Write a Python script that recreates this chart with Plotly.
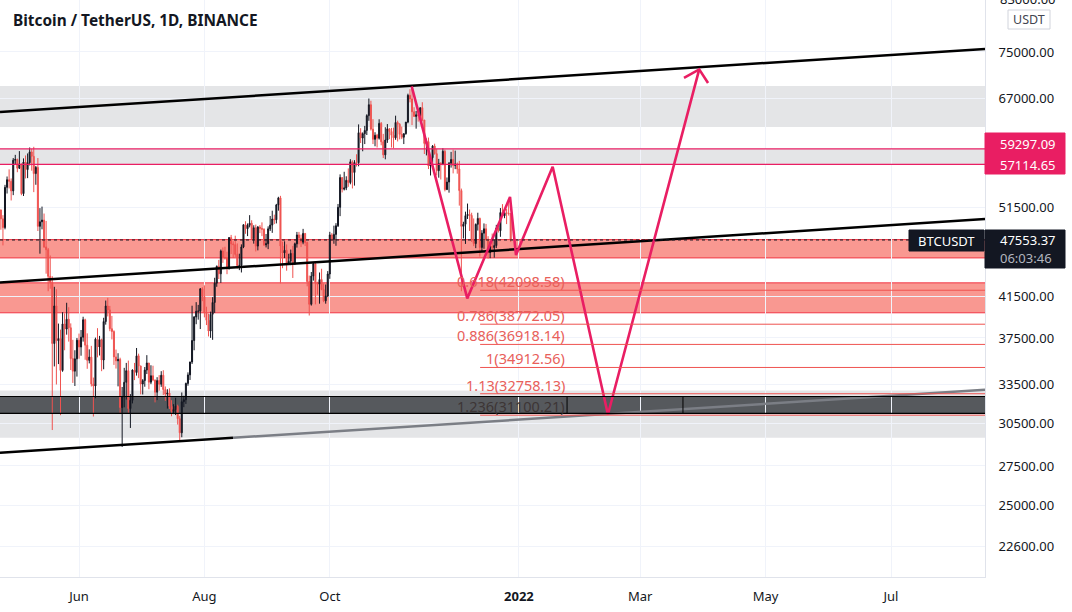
import math
import pandas as pd
import plotly.graph_objects as go

# ---------------- data (BTC/USDT daily, 2021-04-23 .. 2021-12-28) ----------------
opens = [
    51700, 51150, 50050, 49000, 54020, 55030, 54820, 53560,
    57700, 57800, 56580, 57170, 53200, 57440, 56400, 57350, 58870, 58240, 55850, 56700, 49150, 49700, 49900, 46760,
    46450, 43540, 42900, 37000, 40530, 37250, 37450, 34660, 38800, 38320, 39240, 38440, 35670, 34600, 35650,
    37300, 36690, 37570, 39190, 36850, 35520, 35800, 33550, 33380, 37390, 36690, 37340, 35550, 39020, 40520, 40140,
    38350, 38090, 35820, 35480, 35600, 31680, 32510, 33680, 34640, 31600, 32240, 34700, 34490, 35910,
    35040, 33540, 33820, 34690, 35290, 33690, 34220, 33860, 32880, 33820, 33520, 34260, 33090, 32730, 32820, 31780,
    31390, 31530, 31780, 30840, 29800, 32130, 32290, 33590, 34290, 35380, 37270, 39460, 40010, 40020, 42240,
    41460, 39850, 39150, 38130, 39720, 40870, 42830, 44610, 43810, 46290, 45580, 45530, 44430, 47830, 47100, 47020,
    45920, 44690, 44710, 46760, 49340, 48870, 49280, 49520, 47690, 48980, 46850, 49070, 48900, 48810, 46990,
    47130, 48850, 49300, 50030, 49940, 51770, 52660, 46860, 46080, 46370, 44850, 45170, 46030, 44960, 47110, 48140,
    47750, 47300, 48310, 47260, 42990, 40690, 43570, 44900, 42840, 42720, 43210, 42170, 41030, 41520,
    43790, 48140, 47640, 48200, 49220, 51470, 55320, 53790, 53950, 54950, 54660, 57470, 56000, 57370, 57350, 61670,
    60880, 61530, 62010, 64280, 66000, 62210, 60690, 61290, 60860, 63080, 60330, 58450, 60590, 62250, 61860,
    61300, 60910, 63220, 62940, 61430, 61000, 61530, 63280, 67530, 66940, 64880, 64150, 64410, 64310, 65520, 63600,
    60090, 60360, 56890, 58050, 59710, 58620, 56250, 57270, 57140, 58960, 53730, 54720, 57270, 57800,
    56950, 57180, 56480, 53600, 49150, 49400, 50440, 50590, 50470, 47550, 47140, 49390, 50100, 46700, 48340, 48860,
    47630, 46130, 46830, 46680, 46910, 48940, 48630, 50820, 50430, 50800, 50720, 50700,
]
highs = [
    52130, 51170, 50500, 54350, 55460, 56430, 55200, 58000,
    58450, 57920, 58980, 57200, 57950, 58360, 58650, 59500, 59300, 59600, 56900, 58000, 51370, 51560, 50700, 49800,
    46640, 45800, 43550, 42450, 42200, 38830, 38270, 39920, 39800, 40840, 40400, 38850, 37330, 36400, 37500,
    37900, 38230, 39480, 39290, 37920, 36480, 36790, 34070, 37530, 38400, 37690, 37440, 39380, 41060, 41330, 40530,
    39560, 38200, 36460, 36140, 35750, 33300, 34880, 35300, 35500, 32730, 34750, 35300, 36600, 36100,
    35060, 33940, 34950, 35970, 35300, 35100, 35060, 33910, 34100, 34270, 34600, 34680, 33340, 33120, 33190, 32250,
    31940, 32440, 31900, 31050, 32860, 32600, 33650, 34500, 35400, 40550, 39540, 40900, 40630, 42320, 42410,
    42600, 40450, 39780, 39970, 41400, 43390, 44700, 45310, 46460, 46700, 46780, 46220, 47880, 48140, 47400, 48050,
    47160, 46000, 47050, 49380, 49760, 49500, 50500, 49880, 49280, 49360, 49180, 49300, 49630, 48910, 48250,
    49150, 50400, 51050, 50560, 51900, 52800, 52920, 47360, 47400, 47040, 45990, 46460, 46880, 47250, 48490, 48490,
    48180, 48850, 48370, 47360, 43620, 44000, 44980, 45000, 42970, 43950, 44350, 42790, 42690, 44100,
    48500, 48350, 49230, 49530, 51890, 55750, 55340, 56100, 55490, 56560, 57840, 57680, 57700, 58530, 62930, 62350,
    61720, 62700, 64490, 67000, 66640, 63730, 61740, 61500, 63710, 63290, 61500, 62500, 62980, 62360, 62400,
    62440, 64270, 63500, 63120, 62600, 61560, 63290, 67790, 68530, 69000, 65600, 65000, 65000, 65590, 66400, 63600,
    60800, 60950, 58350, 59850, 60050, 59270, 57880, 57410, 59400, 59200, 55330, 57450, 58870, 59180,
    59050, 57380, 57600, 53860, 49700, 50930, 51940, 51200, 50800, 50100, 49490, 50800, 50200, 48700, 49500, 49440,
    47990, 47380, 48300, 47540, 49330, 49580, 51380, 51870, 51160, 51280, 52090, 50710,
]
lows = [
    47500, 48750, 46930, 48800, 53220, 53880, 52330, 53010,
    57050, 56040, 56480, 53000, 52900, 55200, 55240, 56970, 56250, 53400, 54360, 48600, 46000, 48800, 46650, 43820,
    42000, 42250, 30000, 35000, 33500, 35200, 31100, 34550, 36400, 37800, 37170, 34700, 33630, 33380, 34150,
    35660, 35920, 37170, 35570, 34800, 35260, 33340, 31000, 32400, 35780, 35940, 34600, 34760, 38730, 39510, 38120,
    37370, 35130, 34820, 33350, 31250, 28800, 31700, 32300, 31280, 30150, 32000, 33860, 34230, 34020,
    32710, 32700, 33320, 34360, 33120, 33530, 33770, 32080, 32260, 33000, 33310, 32660, 32200, 31600, 31570, 31020,
    31180, 31110, 30400, 29280, 29480, 31710, 31960, 33400, 33870, 35210, 36400, 38770, 39200, 38320, 41000,
    39420, 38690, 37640, 37510, 37330, 39850, 42450, 43260, 42850, 44990, 45340, 43770, 44250, 45960, 45520, 45640,
    44380, 44200, 43950, 46620, 48270, 48000, 49030, 47600, 47130, 46250, 46370, 48350, 48000, 46860, 46700,
    46510, 48600, 48380, 49420, 49500, 51050, 42800, 44410, 45510, 44140, 44750, 44740, 43370, 44750, 46680, 47050,
    46740, 47060, 46860, 42500, 39600, 40560, 43090, 40680, 41650, 40750, 42100, 40900, 40750, 41410,
    43280, 47430, 47120, 46890, 49070, 50380, 53360, 53620, 53660, 54090, 54420, 53880, 54250, 56820, 56850, 60150,
    58960, 60000, 61330, 63480, 62000, 60000, 59680, 59500, 60650, 59820, 58000, 57820, 60170, 60720, 59500,
    59400, 60620, 60380, 60680, 60720, 60000, 61380, 63100, 66380, 62820, 64100, 62280, 63350, 63580, 63400, 58570,
    58370, 56470, 55600, 57350, 58480, 55610, 55300, 55060, 57000, 53500, 53670, 53330, 56670, 55880,
    56460, 55840, 51680, 42000, 47730, 47100, 50040, 48600, 47330, 46850, 46620, 48650, 45670, 46290, 46550, 47520,
    45460, 45500, 46400, 45560, 46630, 48420, 47920, 50400, 50130, 49420, 50450, 47310,
]
closes = [
    51150, 50050, 49000, 54020, 55030, 54820, 53560, 57700,
    57800, 56580, 57170, 53200, 57440, 56400, 57350, 58870, 58240, 55850, 56700, 49150, 49700, 49900, 46760, 46450,
    43540, 42900, 37000, 40530, 37250, 37450, 34660, 38800, 38320, 39240, 38440, 35670, 34600, 35650, 37300,
    36690, 37570, 39190, 36850, 35520, 35800, 33550, 33380, 37390, 36690, 37340, 35550, 39020, 40520, 40140, 38350,
    38090, 35820, 35480, 35600, 31680, 32510, 33680, 34640, 31600, 32240, 34700, 34490, 35910, 35040,
    33540, 33820, 34690, 35290, 33690, 34220, 33860, 32880, 33820, 33520, 34260, 33090, 32730, 32820, 31780, 31390,
    31530, 31780, 30840, 29800, 32130, 32290, 33590, 34290, 35380, 37270, 39460, 40010, 40020, 42240, 41460,
    39850, 39150, 38130, 39720, 40870, 42830, 44610, 43810, 46290, 45580, 45530, 44430, 47830, 47100, 47020, 45920,
    44690, 44710, 46760, 49340, 48870, 49280, 49520, 47690, 48980, 46850, 49070, 48900, 48810, 46990, 47130,
    48850, 49300, 50030, 49940, 51770, 52660, 46860, 46080, 46370, 44850, 45170, 46030, 44960, 47110, 48140, 47750,
    47300, 48310, 47260, 42990, 40690, 43570, 44900, 42840, 42720, 43210, 42170, 41030, 41520, 43790,
    48140, 47640, 48200, 49220, 51470, 55320, 53790, 53950, 54950, 54660, 57470, 56000, 57370, 57350, 61670, 60880,
    61530, 62010, 64280, 66000, 62210, 60690, 61290, 60860, 63080, 60330, 58450, 60590, 62250, 61860, 61300,
    60910, 63220, 62940, 61430, 61000, 61530, 63280, 67530, 66940, 64880, 64150, 64410, 64310, 65520, 63600, 60090,
    60360, 56890, 58050, 59710, 58620, 56250, 57270, 57140, 58960, 53730, 54720, 57270, 57800, 56950,
    57180, 56480, 53600, 49150, 49400, 50440, 50590, 50470, 47550, 47140, 49390, 50100, 46700, 48340, 48860, 47630,
    46130, 46830, 46680, 46910, 48940, 48630, 50820, 50430, 50800, 50720, 50700, 47553.37,
]
dates = pd.date_range("2021-04-23", periods=len(closes), freq="D")

price_ticks = [22600, 25000, 27500, 30500, 33500, 37500, 41500, 51500, 67000, 75000]
month_ticks = ["2021-06-01", "2021-08-01", "2021-10-01", "2022-01-01", "2022-03-01", "2022-05-01", "2022-07-01"]
month_labels = ["Jun", "Aug", "Oct", "<b>2022</b>", "Mar", "May", "Jul"]

last_price = 47553.37
pink_levels = [59297.09, 57114.65]
fib_ratios = ["0.618", "0.786", "0.886", "1", "1.13", "1.236"]
fib_prices = [42098.58, 38772.05, 36918.14, 34912.56, 32758.13, 31100.21]

# drawings (date, price anchors)
gray_zones = [(62540, 69060), (57114.65, 59297.09), (29440, 33010)]
red_zones = [(45530, 47600), (39860, 42860)]
dark_band = (31240, 32540)

zig_x = ["2021-11-09 20:00", "2021-12-06 21:00", "2021-12-27 16:00", "2021-12-30 14:00",
         "2022-01-17 10:00", "2022-02-13 07:00", "2022-03-29 17:00"]
zig_y = [69000, 41270, 52780, 45850, 56800, 31150, 71900]
arrow_x = ["2022-03-22 07:00", "2022-03-29 17:00", "2022-04-03 00:00"]
arrow_y = [70450, 71900, 69560]

X_LEFT = "2021-04-23 13:40"
X_RIGHT = "2022-08-15 17:17"
top_line_y = [64840, 75550]
mid_line_y = [42890, 50020]
low_black_x = [X_LEFT, "2021-08-14 22:00"]
low_black_y = [28390, 29440]
low_gray_x = ["2021-08-14 22:00", X_RIGHT]
low_gray_y = [29440, 33070]

FIB_START = "2021-12-13 03:00"
FIB_LABEL_X = "2022-01-24 10:00"
band_dividers = ["2022-01-24 10:00", "2022-03-21 19:00"]

# ---------------- figure ----------------
W, H = 1072, 612
PW, PH = 985, 577
FONT = "Noto Sans"
L = math.log10
PINK = "#e91e63"
Y_MIN, Y_MAX = 21010, 85070
LY0, LY1 = L(Y_MIN), L(Y_MAX)


def px(x):
    return x / PW


def py(y):
    return 1 - y / PH


def pv(price):
    """price -> paper y fraction on the log price scale"""
    return (L(price) - LY0) / (LY1 - LY0)


fig = go.Figure()

fig.add_trace(go.Candlestick(
    x=dates, open=opens, high=highs, low=lows, close=closes,
    increasing=dict(line=dict(color="#131722", width=1), fillcolor="#131722"),
    decreasing=dict(line=dict(color="#ef5350", width=1), fillcolor="#ef5350"),
    whiskerwidth=0, hoverinfo="skip", showlegend=False,
))

shapes = []


def hrect(lo, hi, fill, layer="between", x0=X_LEFT, x1=X_RIGHT):
    shapes.append(dict(type="rect", xref="x", yref="paper", x0=x0, x1=x1, y0=pv(lo), y1=pv(hi),
                       fillcolor=fill, line=dict(width=0), layer=layer))


def hline(v, color, width=1, dash="solid", layer="above", x0=X_LEFT, x1=X_RIGHT):
    shapes.append(dict(type="line", xref="x", yref="paper", x0=x0, x1=x1, y0=pv(v), y1=pv(v),
                       line=dict(color=color, width=width, dash=dash), layer=layer))


for lo, hi in gray_zones:
    hrect(lo, hi, "rgba(120,123,134,0.2)")
for lo, hi in red_zones:
    hrect(lo, hi, "rgba(244,67,54,0.55)")
    for v in (lo, hi):
        hline(v, "#f23645", 1, layer="between")
hrect(dark_band[0], dark_band[1], "#56595d")
for v in dark_band:
    hline(v, "#000000", 1.2)
for d in band_dividers:
    shapes.append(dict(type="line", xref="x", yref="paper", x0=d, x1=d, y0=pv(dark_band[0]), y1=pv(dark_band[1]),
                       line=dict(color="#000000", width=1), layer="above"))
for v in pink_levels:
    hline(v, PINK, 1.2)
for v in fib_prices:
    hline(v, "#ef5350", 1, x0=FIB_START)
hline(last_price, "#131722", 1, dash="dot")


# right-axis boxes (pixel layout)
def pbox(x0, y0, x1, y1, fill, line_color=None):
    shapes.append(dict(type="rect", xref="paper", yref="paper", x0=px(x0), x1=px(x1), y0=py(y1), y1=py(y0),
                       fillcolor=fill, line=dict(color=line_color or fill, width=1), layer="above"))


pbox(985, 133, 1065, 174, PINK)
pbox(909, 230, 984, 251, "#131722")
pbox(985, 230, 1065, 268, "#131722")
pbox(1008, 10, 1050, 29, "#ffffff", "#d1d4dc")


# trend lines & zigzag
def add_line(xs, ys, color, width):
    fig.add_trace(go.Scatter(x=xs, y=ys, mode="lines", line=dict(color=color, width=width),
                             hoverinfo="skip", showlegend=False))


add_line([X_LEFT, X_RIGHT], top_line_y, "#000000", 2.5)
add_line([X_LEFT, X_RIGHT], mid_line_y, "#000000", 2.5)
add_line(low_black_x, low_black_y, "#000000", 2.5)
add_line(low_gray_x, low_gray_y, "#7b7e85", 2.5)
add_line(zig_x, zig_y, PINK, 2.6)
add_line(arrow_x, arrow_y, PINK, 2.6)

annotations = []
annotations.append(dict(text="<b>Bitcoin / TetherUS, 1D, BINANCE</b>", xref="paper", yref="paper",
                        x=px(11), y=py(20), xanchor="left", yanchor="middle", showarrow=False,
                        font=dict(family=FONT, size=15.4, color="#131722")))
for r, v in zip(fib_ratios, fib_prices):
    col = "#3d3535" if r == "1.236" else "#e8605a"
    annotations.append(dict(text=f"{r}({v:.2f})", xref="x", yref="paper", x=FIB_LABEL_X, y=pv(v),
                            xanchor="right", yanchor="middle", yshift=9, showarrow=False,
                            font=dict(family=FONT, size=14.5, color=col)))


def ptext(text, x, y, color, size=13, anchor="left"):
    annotations.append(dict(text=text, xref="paper", yref="paper", x=px(x), y=py(y), xanchor=anchor,
                            yanchor="middle", showarrow=False, font=dict(family=FONT, size=size, color=color)))


ptext(f"{pink_levels[0]:.2f}", 998, 144, "#ffffff")
ptext(f"{pink_levels[1]:.2f}", 998, 165, "#ffffff")
ptext("BTCUSDT", 946.5, 240.5, "#ffffff", 13, "center")
ptext(f"{last_price:.2f}", 998, 240, "#ffffff")
ptext("06:03:46", 998, 258, "#b2b5be")
ptext("USDT", 1029, 19.5, "#434651", 12.5, "center")
ptext("83000.00", 998, -1, "#131722")

fig.update_layout(
    width=W, height=H, autosize=False,
    margin=dict(l=0, r=W - PW, t=0, b=H - PH),
    paper_bgcolor="#ffffff", plot_bgcolor="#ffffff",
    shapes=shapes, annotations=annotations, showlegend=False,
    font=dict(family=FONT, color="#131722"),
    xaxis=dict(
        type="date", range=[X_LEFT, X_RIGHT], rangeslider=dict(visible=False),
        tickvals=month_ticks, ticktext=month_labels, ticks="", ticklabelstandoff=7,
        showgrid=True, gridcolor="#f0f3fa", gridwidth=1, zeroline=False,
        showline=True, linecolor="#e0e3eb", linewidth=1,
        tickfont=dict(family=FONT, size=13, color="#131722"),
    ),
    yaxis=dict(
        type="log", side="right", range=[LY0, LY1],
        tickvals=price_ticks, ticktext=[f"{v:.2f}" for v in price_ticks],
        ticks="", ticklabelstandoff=10,
        showgrid=True, gridcolor="#f0f3fa", gridwidth=1, zeroline=False,
        showline=True, linecolor="#e0e3eb", linewidth=1,
        tickfont=dict(family=FONT, size=13, color="#131722"),
    ),
)

fig.write_html("out.html", config={"displayModeBar": False},
               post_script="document.body.style.margin='0px';document.body.style.overflow='hidden';")
